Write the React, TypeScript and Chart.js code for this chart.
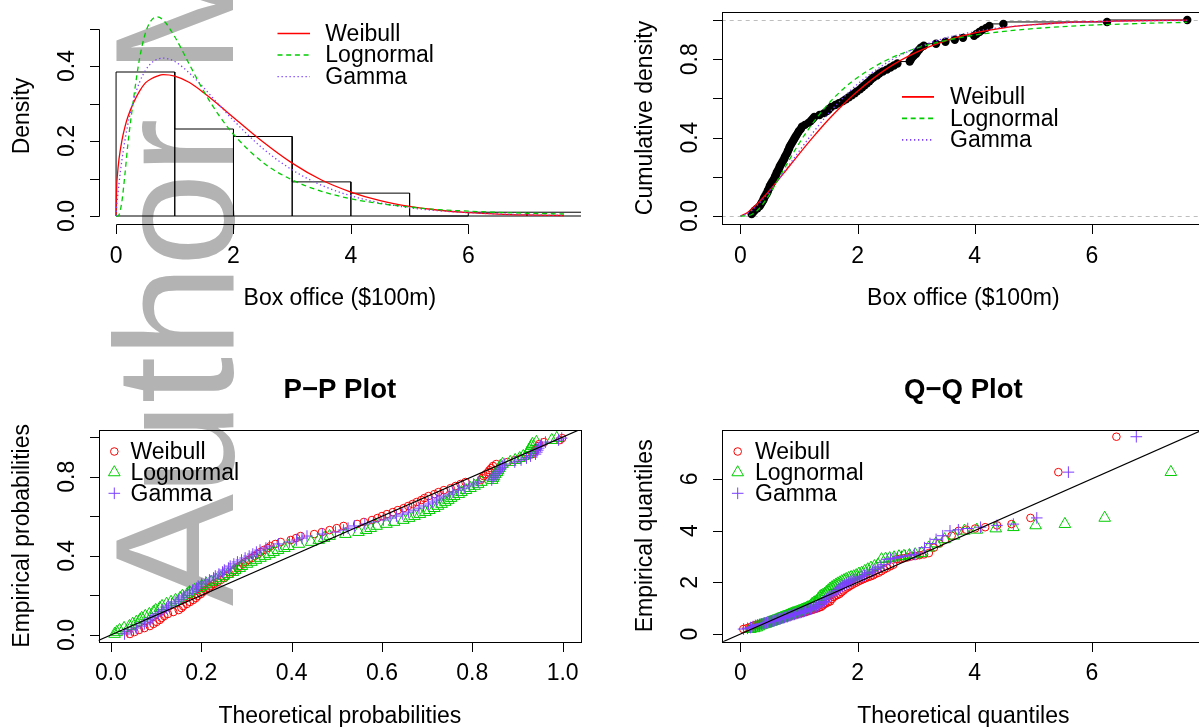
import React, { useEffect, useRef } from 'react';
import { Chart, registerables } from 'chart.js';

Chart.register(...registerables);

// ---------------- data ----------------
const SERIES = ['Weibull', 'Lognormal', 'Gamma'];

// histogram of box office ($100m)
const HIST_BREAKS = [0, 1, 2, 3, 4, 5, 6, 7, 8];
const HIST_DENSITY = [0.384, 0.232, 0.212, 0.091, 0.061, 0, 0.0101, 0.0101];

// fitted densities
const DENS_X = [0, 0.01, 0.02, 0.05, 0.1, 0.15, 0.2, 0.3, 0.4, 0.5, 0.6, 0.7, 0.8, 1, 1.25, 1.5, 1.75, 2, 2.5, 3, 3.5, 4, 4.5, 5, 5.5, 6, 6.5, 7, 7.63];
const DENS_WEIBULL = [0, 0.078, 0.104, 0.152, 0.202, 0.237, 0.264, 0.303, 0.333, 0.355, 0.366, 0.373, 0.377, 0.373, 0.356, 0.328, 0.296, 0.263, 0.198, 0.141, 0.096, 0.064, 0.041, 0.0255, 0.0154, 0.0091, 0.0053, 0.003, 0.0014];
const DENS_LNORM = [0, 0, 0, 0.003, 0.04, 0.11, 0.19, 0.315, 0.42, 0.488, 0.522, 0.531, 0.523, 0.478, 0.404, 0.331, 0.269, 0.218, 0.143, 0.096, 0.066, 0.046, 0.033, 0.024, 0.017, 0.013, 0.0097, 0.0074, 0.0054];
const DENS_GAMMA = [0, 0.023, 0.041, 0.087, 0.15, 0.201, 0.244, 0.31, 0.357, 0.388, 0.408, 0.418, 0.421, 0.412, 0.381, 0.341, 0.297, 0.255, 0.18, 0.123, 0.082, 0.054, 0.035, 0.022, 0.014, 0.0089, 0.0056, 0.0035, 0.0019];

// fitted cumulative distributions
const CDF_X = [0, 0.1, 0.2, 0.3, 0.4, 0.5, 0.75, 1, 1.25, 1.5, 1.75, 2, 2.5, 3, 3.5, 4, 4.5, 5, 5.5, 6, 6.5, 7, 7.63];
const CDF_WEIBULL = [0, 0.014, 0.038, 0.066, 0.098, 0.132, 0.223, 0.316, 0.406, 0.491, 0.568, 0.637, 0.752, 0.835, 0.894, 0.934, 0.96, 0.976, 0.986, 0.992, 0.995, 0.997, 0.999];
const CDF_LNORM = [0, 0.0006, 0.009, 0.032, 0.068, 0.113, 0.243, 0.37, 0.48, 0.572, 0.647, 0.707, 0.796, 0.855, 0.895, 0.923, 0.942, 0.956, 0.966, 0.974, 0.979, 0.984, 0.988];
const CDF_GAMMA = [0, 0.01, 0.03, 0.059, 0.091, 0.127, 0.227, 0.33, 0.43, 0.522, 0.602, 0.673, 0.782, 0.857, 0.908, 0.941, 0.963, 0.976, 0.985, 0.991, 0.994, 0.996, 0.998];

// sorted observations (box office, $100m)
const SORTED = [
  0.19, 0.22, 0.25, 0.29, 0.33, 0.35, 0.37, 0.39, 0.40, 0.42,
  0.44, 0.46, 0.47, 0.49, 0.50, 0.52, 0.54, 0.56, 0.58, 0.59,
  0.61, 0.62, 0.64, 0.66, 0.67, 0.69, 0.71, 0.73, 0.75, 0.76,
  0.78, 0.80, 0.81, 0.83, 0.84, 0.86, 0.88, 0.90, 0.92, 0.94,
  0.96, 0.98, 1.00, 1.03, 1.05, 1.10, 1.16, 1.20, 1.23, 1.26,
  1.35, 1.43, 1.48, 1.51, 1.55, 1.62, 1.68, 1.75, 1.80, 1.85,
  1.90, 1.95, 1.99, 2.04, 2.08, 2.12, 2.16, 2.20, 2.23, 2.27,
  2.33, 2.37, 2.43, 2.50, 2.56, 2.62, 2.68, 2.89, 2.91, 2.93,
  2.96, 3.00, 3.02, 3.05, 3.08, 3.13, 3.34, 3.50, 3.66, 3.80,
  3.99, 4.03, 4.08, 4.13, 4.20, 4.25, 4.49, 6.26, 7.63];

// empirical cumulative density of the sorted observations
const CDF_P = [
  0.010, 0.020, 0.030, 0.040, 0.051, 0.061, 0.071, 0.081, 0.091, 0.101,
  0.111, 0.121, 0.131, 0.141, 0.152, 0.162, 0.172, 0.182, 0.192, 0.202,
  0.212, 0.222, 0.232, 0.242, 0.253, 0.263, 0.273, 0.283, 0.293, 0.303,
  0.313, 0.323, 0.333, 0.343, 0.354, 0.364, 0.374, 0.384, 0.394, 0.404,
  0.414, 0.424, 0.434, 0.444, 0.455, 0.465, 0.475, 0.485, 0.495, 0.505,
  0.515, 0.525, 0.535, 0.545, 0.556, 0.566, 0.576, 0.586, 0.596, 0.606,
  0.616, 0.626, 0.636, 0.646, 0.657, 0.667, 0.677, 0.687, 0.697, 0.707,
  0.717, 0.727, 0.737, 0.747, 0.758, 0.768, 0.778, 0.788, 0.798, 0.808,
  0.818, 0.828, 0.838, 0.848, 0.859, 0.869, 0.879, 0.889, 0.899, 0.909,
  0.919, 0.929, 0.939, 0.949, 0.960, 0.970, 0.980, 0.990, 1.000];

// empirical probabilities (P-P plot, y)
const PP_P = [
  0.005, 0.015, 0.025, 0.035, 0.045, 0.056, 0.066, 0.076, 0.086, 0.096,
  0.106, 0.116, 0.126, 0.136, 0.146, 0.157, 0.167, 0.177, 0.187, 0.197,
  0.207, 0.217, 0.227, 0.237, 0.247, 0.258, 0.268, 0.278, 0.288, 0.298,
  0.308, 0.318, 0.328, 0.338, 0.348, 0.359, 0.369, 0.379, 0.389, 0.399,
  0.409, 0.419, 0.429, 0.439, 0.449, 0.460, 0.470, 0.480, 0.490, 0.500,
  0.510, 0.520, 0.530, 0.540, 0.551, 0.561, 0.571, 0.581, 0.591, 0.601,
  0.611, 0.621, 0.631, 0.641, 0.652, 0.662, 0.672, 0.682, 0.692, 0.702,
  0.712, 0.722, 0.732, 0.742, 0.753, 0.763, 0.773, 0.783, 0.793, 0.803,
  0.813, 0.823, 0.833, 0.843, 0.854, 0.864, 0.874, 0.884, 0.894, 0.904,
  0.914, 0.924, 0.934, 0.944, 0.955, 0.965, 0.975, 0.985, 0.995];

// theoretical probabilities (P-P plot, x)
const PP_WEIBULL = [
  0.042, 0.052, 0.062, 0.074, 0.086, 0.094, 0.101, 0.108, 0.112, 0.118,
  0.126, 0.138, 0.150, 0.156, 0.160, 0.168, 0.175, 0.182, 0.188, 0.192,
  0.199, 0.203, 0.210, 0.217, 0.221, 0.228, 0.236, 0.243, 0.251, 0.255,
  0.263, 0.269, 0.273, 0.281, 0.284, 0.292, 0.298, 0.305, 0.312, 0.318,
  0.325, 0.331, 0.338, 0.347, 0.353, 0.364, 0.376, 0.398, 0.410, 0.420,
  0.450, 0.467, 0.484, 0.500, 0.515, 0.545, 0.560, 0.578, 0.590, 0.600,
  0.611, 0.624, 0.635, 0.648, 0.658, 0.668, 0.677, 0.687, 0.694, 0.703,
  0.716, 0.725, 0.737, 0.752, 0.763, 0.774, 0.785, 0.819, 0.822, 0.825,
  0.830, 0.835, 0.838, 0.842, 0.846, 0.853, 0.878, 0.894, 0.909, 0.920,
  0.933, 0.936, 0.939, 0.942, 0.946, 0.948, 0.959, 0.994, 0.999];
const PP_LNORM = [
  0.008, 0.013, 0.019, 0.029, 0.041, 0.048, 0.056, 0.064, 0.068, 0.076,
  0.085, 0.094, 0.099, 0.108, 0.113, 0.123, 0.133, 0.143, 0.153, 0.158,
  0.169, 0.174, 0.185, 0.195, 0.201, 0.211, 0.222, 0.233, 0.243, 0.249,
  0.259, 0.270, 0.275, 0.285, 0.290, 0.301, 0.311, 0.321, 0.331, 0.341,
  0.351, 0.360, 0.370, 0.384, 0.393, 0.416, 0.443, 0.460, 0.472, 0.484,
  0.519, 0.548, 0.565, 0.575, 0.588, 0.610, 0.627, 0.647, 0.660, 0.672,
  0.684, 0.696, 0.705, 0.716, 0.724, 0.732, 0.740, 0.747, 0.753, 0.760,
  0.770, 0.776, 0.786, 0.796, 0.805, 0.813, 0.820, 0.844, 0.846, 0.848,
  0.851, 0.855, 0.857, 0.860, 0.862, 0.867, 0.884, 0.895, 0.905, 0.913,
  0.922, 0.924, 0.926, 0.928, 0.931, 0.933, 0.942, 0.976, 0.987];
const PP_GAMMA = [
  0.030, 0.037, 0.045, 0.056, 0.068, 0.074, 0.081, 0.087, 0.091, 0.098,
  0.105, 0.112, 0.115, 0.123, 0.127, 0.134, 0.142, 0.150, 0.157, 0.161,
  0.169, 0.174, 0.181, 0.189, 0.193, 0.201, 0.210, 0.218, 0.227, 0.231,
  0.239, 0.247, 0.251, 0.260, 0.264, 0.272, 0.280, 0.289, 0.297, 0.306,
  0.314, 0.322, 0.330, 0.343, 0.351, 0.371, 0.395, 0.411, 0.423, 0.434,
  0.468, 0.497, 0.515, 0.525, 0.539, 0.562, 0.581, 0.603, 0.618, 0.632,
  0.646, 0.659, 0.670, 0.682, 0.692, 0.703, 0.712, 0.721, 0.728, 0.736,
  0.749, 0.757, 0.769, 0.782, 0.793, 0.803, 0.813, 0.843, 0.846, 0.848,
  0.852, 0.857, 0.860, 0.863, 0.867, 0.872, 0.894, 0.908, 0.920, 0.929,
  0.940, 0.943, 0.945, 0.947, 0.951, 0.953, 0.962, 0.991, 0.998];

// theoretical quantiles (Q-Q plot, x); empirical quantiles are SORTED
const QQ_WEIBULL = [
  0.048, 0.104, 0.150, 0.191, 0.228, 0.264, 0.298, 0.331, 0.363, 0.394,
  0.424, 0.454, 0.483, 0.512, 0.541, 0.569, 0.598, 0.625, 0.653, 0.681,
  0.708, 0.735, 0.762, 0.790, 0.816, 0.844, 0.871, 0.899, 0.926, 0.953,
  0.980, 1.007, 1.035, 1.063, 1.090, 1.118, 1.146, 1.175, 1.203, 1.231,
  1.260, 1.289, 1.318, 1.347, 1.377, 1.406, 1.438, 1.468, 1.498, 1.530,
  1.561, 1.593, 1.625, 1.658, 1.692, 1.725, 1.759, 1.794, 1.830, 1.865,
  1.902, 1.939, 1.977, 2.016, 2.055, 2.096, 2.137, 2.179, 2.222, 2.266,
  2.311, 2.358, 2.405, 2.454, 2.505, 2.557, 2.611, 2.667, 2.726, 2.786,
  2.850, 2.916, 2.985, 3.058, 3.135, 3.217, 3.304, 3.397, 3.497, 3.606,
  3.726, 3.858, 4.008, 4.179, 4.382, 4.629, 4.952, 5.428, 6.420];
const QQ_LNORM = [
  0.170, 0.235, 0.278, 0.312, 0.342, 0.369, 0.395, 0.419, 0.442, 0.464,
  0.485, 0.506, 0.526, 0.546, 0.566, 0.586, 0.606, 0.625, 0.644, 0.663,
  0.682, 0.701, 0.720, 0.739, 0.758, 0.778, 0.796, 0.817, 0.836, 0.855,
  0.874, 0.894, 0.914, 0.935, 0.955, 0.977, 0.997, 1.019, 1.040, 1.062,
  1.084, 1.107, 1.129, 1.152, 1.176, 1.200, 1.224, 1.249, 1.274, 1.300,
  1.326, 1.353, 1.380, 1.408, 1.437, 1.467, 1.497, 1.527, 1.559, 1.591,
  1.625, 1.659, 1.694, 1.730, 1.769, 1.806, 1.848, 1.890, 1.934, 1.977,
  2.023, 2.070, 2.122, 2.174, 2.229, 2.287, 2.348, 2.409, 2.478, 2.548,
  2.623, 2.706, 2.791, 2.885, 2.984, 3.094, 3.213, 3.338, 3.485, 3.645,
  3.824, 4.037, 4.360, 4.660, 5.040, 5.540, 6.220, 7.350, 10.100];
const QQ_GAMMA = [
  0.052, 0.120, 0.171, 0.215, 0.254, 0.289, 0.323, 0.355, 0.386, 0.415,
  0.444, 0.472, 0.499, 0.525, 0.552, 0.578, 0.604, 0.628, 0.654, 0.679,
  0.704, 0.728, 0.752, 0.776, 0.801, 0.825, 0.849, 0.874, 0.897, 0.922,
  0.945, 0.970, 0.995, 1.019, 1.044, 1.069, 1.094, 1.119, 1.145, 1.170,
  1.196, 1.221, 1.248, 1.273, 1.301, 1.328, 1.355, 1.382, 1.410, 1.438,
  1.467, 1.496, 1.525, 1.555, 1.585, 1.617, 1.647, 1.680, 1.712, 1.745,
  1.778, 1.813, 1.848, 1.884, 1.922, 1.958, 1.998, 2.037, 2.078, 2.118,
  2.162, 2.205, 2.252, 2.299, 2.347, 2.398, 2.451, 2.504, 2.561, 2.621,
  2.684, 2.750, 2.818, 2.893, 2.970, 3.053, 3.142, 3.236, 3.341, 3.454,
  3.578, 3.721, 3.881, 4.100, 4.380, 4.660, 5.060, 5.600, 6.760];

// tick values and labels
const X_TICKS_BOX = [0, 2, 4, 6];
const X_LABELS_BOX = ['0', '2', '4', '6'];
const Y_TICKS_DENS = [0, 0.1, 0.2, 0.3, 0.4, 0.5];
const Y_LABELS_DENS = ['0.0', '', '0.2', '', '0.4', ''];
const TICKS_PROB = [0, 0.2, 0.4, 0.6, 0.8, 1.0];
const LABELS_PROB_ALL = ['0.0', '0.2', '0.4', '0.6', '0.8', '1.0'];
const LABELS_PROB_HALF = ['0.0', '', '0.4', '', '0.8', ''];
const Y_TICKS_QQ = [0, 2, 4, 6];
const Y_LABELS_QQ = ['0', '2', '4', '6'];

// ---------------- styles ----------------
const FONT = '"Liberation Sans", Arial, Helvetica, sans-serif';
const FS = 23;
const CW = 1210;
const CH = 727;
const TICK = 9.5;
const COLORS = ['#FF0000', '#00CD00', '#7B3FFF'];
const DASHES = [[], [5, 3.7], [1.3, 2.7]];
const POINT_STYLES = ['circle', 'triangle', 'cross'];
const POINT_RADII = [3.8, 6.7, 5.8];
const LINE_W = 1.3;

type Area = { left: number; top: number; right: number; bottom: number };
type LegendSpec = { kind: 'line' | 'point'; x0: number; x1?: number; tx: number; ys: number[]; lw?: number };
type PanelSpec = {
  area: Area;
  xRange: [number, number];
  yRange: [number, number];
  xTicks: number[];
  xTickLabels: string[];
  yTicks: number[];
  yTickLabels: string[];
  xTitle: string;
  yTitle: string;
  main?: string;
  mainY?: number;
  box: boolean;
  hlines?: number[];
  diag?: boolean;
  legend: LegendSpec;
};

const px = (v: number) => Math.round(v) + 0.5;

function drawSymbol(ctx: CanvasRenderingContext2D, style: string, cx: number, cy: number, r: number, color: string) {
  ctx.save();
  ctx.strokeStyle = color;
  ctx.lineWidth = 1;
  ctx.setLineDash([]);
  ctx.beginPath();
  if (style === 'circle') {
    ctx.arc(cx, cy, r, 0, Math.PI * 2);
  } else if (style === 'triangle') {
    const h = (r * Math.sqrt(3)) / 2;
    ctx.moveTo(cx, cy - r);
    ctx.lineTo(cx + h, cy + r / 2);
    ctx.lineTo(cx - h, cy + r / 2);
    ctx.closePath();
  } else {
    ctx.moveTo(cx, cy - r);
    ctx.lineTo(cx, cy + r);
    ctx.moveTo(cx - r, cy);
    ctx.lineTo(cx + r, cy);
  }
  ctx.stroke();
  ctx.restore();
}

function makePlugin(spec: PanelSpec) {
  return {
    id: 'rStyleAxes',
    beforeDatasetsDraw(chart: any) {
      const { ctx, chartArea: a } = chart;
      const ys = chart.scales.y;
      if (!spec.hlines) return;
      ctx.save();
      ctx.beginPath();
      ctx.rect(a.left, a.top, a.right - a.left, a.bottom - a.top);
      ctx.clip();
      ctx.strokeStyle = '#BEBEBE';
      ctx.lineWidth = 1;
      ctx.setLineDash([4, 4]);
      for (const h of spec.hlines) {
        const yy = px(ys.getPixelForValue(h));
        ctx.beginPath();
        ctx.moveTo(a.left, yy);
        ctx.lineTo(a.right, yy);
        ctx.stroke();
      }
      ctx.restore();
    },
    afterDatasetsDraw(chart: any) {
      if (!spec.diag) return;
      const { ctx, chartArea: a } = chart;
      const xs = chart.scales.x;
      const ys = chart.scales.y;
      ctx.save();
      ctx.beginPath();
      ctx.rect(a.left, a.top, a.right - a.left, a.bottom - a.top);
      ctx.clip();
      ctx.strokeStyle = '#000';
      ctx.lineWidth = 1.2;
      const lo = Math.min(spec.xRange[0], spec.yRange[0]) - 1;
      const hi = Math.max(spec.xRange[1], spec.yRange[1]) + 1;
      ctx.beginPath();
      ctx.moveTo(xs.getPixelForValue(lo), ys.getPixelForValue(lo));
      ctx.lineTo(xs.getPixelForValue(hi), ys.getPixelForValue(hi));
      ctx.stroke();
      ctx.restore();
    },
    afterDraw(chart: any) {
      const { ctx, chartArea: a } = chart;
      const xs = chart.scales.x;
      const ys = chart.scales.y;
      ctx.save();
      ctx.strokeStyle = '#000';
      ctx.fillStyle = '#000';
      ctx.lineWidth = 1;
      ctx.setLineDash([]);
      if (spec.box) {
        ctx.strokeRect(px(a.left), px(a.top), Math.round(a.right) - Math.round(a.left), Math.round(a.bottom) - Math.round(a.top));
      }
      // x axis
      const yAx = px(a.bottom);
      const xPix = spec.xTicks.map((v) => xs.getPixelForValue(v));
      ctx.beginPath();
      ctx.moveTo(px(xPix[0]), yAx);
      ctx.lineTo(px(xPix[xPix.length - 1]), yAx);
      xPix.forEach((p) => {
        ctx.moveTo(px(p), yAx);
        ctx.lineTo(px(p), yAx + TICK);
      });
      ctx.stroke();
      ctx.font = `${FS}px ${FONT}`;
      ctx.textAlign = 'center';
      ctx.textBaseline = 'alphabetic';
      xPix.forEach((p, i) => {
        if (spec.xTickLabels[i]) ctx.fillText(spec.xTickLabels[i], p, a.bottom + 38.5);
      });
      // y axis
      const xAx = px(a.left);
      const yPix = spec.yTicks.map((v) => ys.getPixelForValue(v));
      ctx.beginPath();
      ctx.moveTo(xAx, px(yPix[0]));
      ctx.lineTo(xAx, px(yPix[yPix.length - 1]));
      yPix.forEach((p) => {
        ctx.moveTo(xAx, px(p));
        ctx.lineTo(xAx - TICK, px(p));
      });
      ctx.stroke();
      yPix.forEach((p, i) => {
        const t = spec.yTickLabels[i];
        if (!t) return;
        ctx.save();
        ctx.translate(a.left - 25, p);
        ctx.rotate(-Math.PI / 2);
        ctx.fillText(t, 0, 0);
        ctx.restore();
      });
      // axis titles
      ctx.fillText(spec.xTitle, (a.left + a.right) / 2, a.bottom + 81);
      ctx.save();
      ctx.translate(a.left - 70, (a.top + a.bottom) / 2);
      ctx.rotate(-Math.PI / 2);
      ctx.fillText(spec.yTitle, 0, 0);
      ctx.restore();
      if (spec.main) {
        ctx.font = `bold 27.6px ${FONT}`;
        ctx.fillText(spec.main, (a.left + a.right) / 2, spec.mainY || 0);
      }
      // legend
      const lg = spec.legend;
      ctx.font = `${FS}px ${FONT}`;
      ctx.textAlign = 'left';
      ctx.textBaseline = 'middle';
      SERIES.forEach((name, i) => {
        const yy = lg.ys[i];
        if (lg.kind === 'line') {
          ctx.save();
          ctx.strokeStyle = COLORS[i];
          ctx.lineWidth = lg.lw || LINE_W;
          ctx.setLineDash(DASHES[i]);
          ctx.beginPath();
          ctx.moveTo(lg.x0, yy);
          ctx.lineTo(lg.x1 || lg.x0, yy);
          ctx.stroke();
          ctx.restore();
        } else {
          drawSymbol(ctx, POINT_STYLES[i], lg.x0, yy, POINT_RADII[i], COLORS[i]);
        }
        ctx.fillStyle = '#000';
        ctx.fillText(name, lg.tx, yy + 1);
      });
      ctx.restore();
    },
  };
}

const xy = (xs: number[], ys: number[]) => xs.map((v, i) => ({ x: v, y: ys[i] }));

function histOutline(breaks: number[], dens: number[]) {
  const pts: { x: number; y: number }[] = [];
  dens.forEach((h, i) => {
    pts.push({ x: breaks[i], y: 0 }, { x: breaks[i], y: h }, { x: breaks[i + 1], y: h }, { x: breaks[i + 1], y: 0 });
  });
  pts.push({ x: breaks[0], y: 0 });
  return pts;
}

function curveDataset(i: number, data: { x: number; y: number }[]) {
  return {
    label: SERIES[i],
    data,
    showLine: true,
    borderColor: COLORS[i],
    borderWidth: LINE_W,
    borderDash: DASHES[i],
    pointRadius: 0,
    cubicInterpolationMode: 'monotone',
    fill: false,
    order: 3 - i,
  };
}

function pointDataset(i: number, data: { x: number; y: number }[]) {
  return {
    label: SERIES[i],
    data,
    showLine: false,
    pointStyle: POINT_STYLES[i],
    pointRadius: POINT_RADII[i],
    pointBorderColor: COLORS[i],
    pointBackgroundColor: 'rgba(0,0,0,0)',
    pointBorderWidth: 1,
    order: 3 - i,
  };
}

function makeChart(canvas: HTMLCanvasElement, spec: PanelSpec, datasets: any[]) {
  const a = spec.area;
  return new Chart(canvas, {
    type: 'scatter',
    data: { datasets },
    options: {
      responsive: false,
      animation: false,
      devicePixelRatio: 1,
      events: [],
      layout: {
        autoPadding: false,
        padding: { left: a.left, top: a.top, right: CW - a.right, bottom: CH - a.bottom },
      },
      plugins: { legend: { display: false }, tooltip: { enabled: false }, title: { display: false } },
      scales: {
        x: { type: 'linear', display: false, min: spec.xRange[0], max: spec.xRange[1] },
        y: { type: 'linear', display: false, min: spec.yRange[0], max: spec.yRange[1] },
      },
    } as any,
    plugins: [makePlugin(spec) as any],
  });
}

// ---------------- panel specs ----------------
const DENS_SPEC: PanelSpec = {
  area: { left: 98.7, top: 8, right: 581, bottom: 224 },
  xRange: [-0.296, 7.92],
  yRange: [-0.0213, 0.5547],
  xTicks: X_TICKS_BOX,
  xTickLabels: X_LABELS_BOX,
  yTicks: Y_TICKS_DENS,
  yTickLabels: Y_LABELS_DENS,
  xTitle: 'Box office ($100m)',
  yTitle: 'Density',
  box: false,
  legend: { kind: 'line', x0: 277.5, x1: 310, tx: 325.3, ys: [33.5, 55, 76.7] },
};

const CDF_SPEC: PanelSpec = {
  area: { left: 721.7, top: 12, right: 1205, bottom: 224 },
  xRange: [-0.321, 7.933],
  yRange: [-0.0408, 1.0408],
  xTicks: X_TICKS_BOX,
  xTickLabels: X_LABELS_BOX,
  yTicks: TICKS_PROB,
  yTickLabels: LABELS_PROB_HALF,
  xTitle: 'Box office ($100m)',
  yTitle: 'Cumulative density',
  box: true,
  hlines: [0, 1],
  legend: { kind: 'line', x0: 902, x1: 934, tx: 950, ys: [96.9, 118.4, 139.8], lw: 1.8 },
};

const PP_SPEC: PanelSpec = {
  area: { left: 98.7, top: 430, right: 581, bottom: 641.7 },
  xRange: [-0.0272, 1.0407],
  yRange: [-0.034, 1.036],
  xTicks: TICKS_PROB,
  xTickLabels: LABELS_PROB_ALL,
  yTicks: TICKS_PROB,
  yTickLabels: LABELS_PROB_HALF,
  xTitle: 'Theoretical probabilities',
  yTitle: 'Empirical probabilities',
  main: 'P\u2212P Plot',
  mainY: 397.5,
  box: true,
  diag: true,
  legend: { kind: 'point', x0: 114.3, tx: 130.5, ys: [451.5, 472.4, 493.3] },
};

const QQ_SPEC: PanelSpec = {
  area: { left: 721.7, top: 430, right: 1205, bottom: 641.7 },
  xRange: [-0.321, 7.933],
  yRange: [-0.298, 7.89],
  xTicks: X_TICKS_BOX,
  xTickLabels: X_LABELS_BOX,
  yTicks: Y_TICKS_QQ,
  yTickLabels: Y_LABELS_QQ,
  xTitle: 'Theoretical quantiles',
  yTitle: 'Empirical quantiles',
  main: 'Q\u2212Q Plot',
  mainY: 397.5,
  box: true,
  diag: true,
  legend: { kind: 'point', x0: 737.7, tx: 755, ys: [451.5, 472.4, 493.3] },
};

const PANELS: { spec: PanelSpec; datasets: () => any[] }[] = [
  {
    spec: DENS_SPEC,
    datasets: () => [
      {
        label: 'Histogram',
        data: histOutline(HIST_BREAKS, HIST_DENSITY),
        showLine: true,
        borderColor: '#000',
        borderWidth: 1,
        pointRadius: 0,
        tension: 0,
        fill: false,
        order: 4,
      },
      curveDataset(0, xy(DENS_X, DENS_WEIBULL)),
      curveDataset(1, xy(DENS_X, DENS_LNORM)),
      curveDataset(2, xy(DENS_X, DENS_GAMMA)),
    ],
  },
  {
    spec: CDF_SPEC,
    datasets: () => [
      {
        label: 'Empirical',
        data: xy(SORTED, CDF_P),
        showLine: true,
        stepped: 'after',
        borderColor: '#000',
        borderWidth: 1,
        pointRadius: 4.2,
        pointBackgroundColor: '#000',
        pointBorderWidth: 0,
        fill: false,
        order: 4,
      },
      curveDataset(0, xy(CDF_X, CDF_WEIBULL)),
      curveDataset(1, xy(CDF_X, CDF_LNORM)),
      curveDataset(2, xy(CDF_X, CDF_GAMMA)),
    ],
  },
  {
    spec: PP_SPEC,
    datasets: () => [
      pointDataset(0, xy(PP_WEIBULL, PP_P)),
      pointDataset(1, xy(PP_LNORM, PP_P)),
      pointDataset(2, xy(PP_GAMMA, PP_P)),
    ],
  },
  {
    spec: QQ_SPEC,
    datasets: () => [
      pointDataset(0, xy(QQ_WEIBULL, SORTED)),
      pointDataset(1, xy(QQ_LNORM, SORTED)),
      pointDataset(2, xy(QQ_GAMMA, SORTED)),
    ],
  },
];

function Panel({ spec, datasets }: { spec: PanelSpec; datasets: () => any[] }) {
  const ref = useRef<HTMLCanvasElement>(null);
  useEffect(() => {
    if (!ref.current) return;
    const chart = makeChart(ref.current, spec, datasets());
    return () => chart.destroy();
  }, []);
  return <canvas ref={ref} width={CW} height={CH} style={{ position: 'absolute', left: 0, top: 0 }} />;
}

function Watermark() {
  const ref = useRef<HTMLCanvasElement>(null);
  useEffect(() => {
    const c = ref.current;
    if (!c) return;
    const ctx = c.getContext('2d');
    if (!ctx) return;
    ctx.clearRect(0, 0, c.width, c.height);
    ctx.save();
    ctx.fillStyle = '#B3B3B3';
    ctx.font = `168px ${FONT}`;
    try {
      (ctx as any).letterSpacing = '-1.5px';
    } catch (e) {
      /* ignore */
    }
    ctx.textAlign = 'left';
    ctx.textBaseline = 'alphabetic';
    ctx.translate(233, 606);
    ctx.rotate(-Math.PI / 2);
    ctx.fillText('Author Manuscript', 0, 0);
    ctx.restore();
  }, []);
  return <canvas ref={ref} width={1199} height={727} style={{ position: 'absolute', left: 0, top: 0 }} />;
}

export default function App() {
  return (
    <div
      style={{
        position: 'fixed',
        left: 0,
        top: 0,
        width: 1199,
        height: 727,
        overflow: 'hidden',
        background: '#FFFFFF',
      }}
    >
      <Watermark />
      {PANELS.map((p, i) => (
        <Panel key={i} spec={p.spec} datasets={p.datasets} />
      ))}
    </div>
  );
}
